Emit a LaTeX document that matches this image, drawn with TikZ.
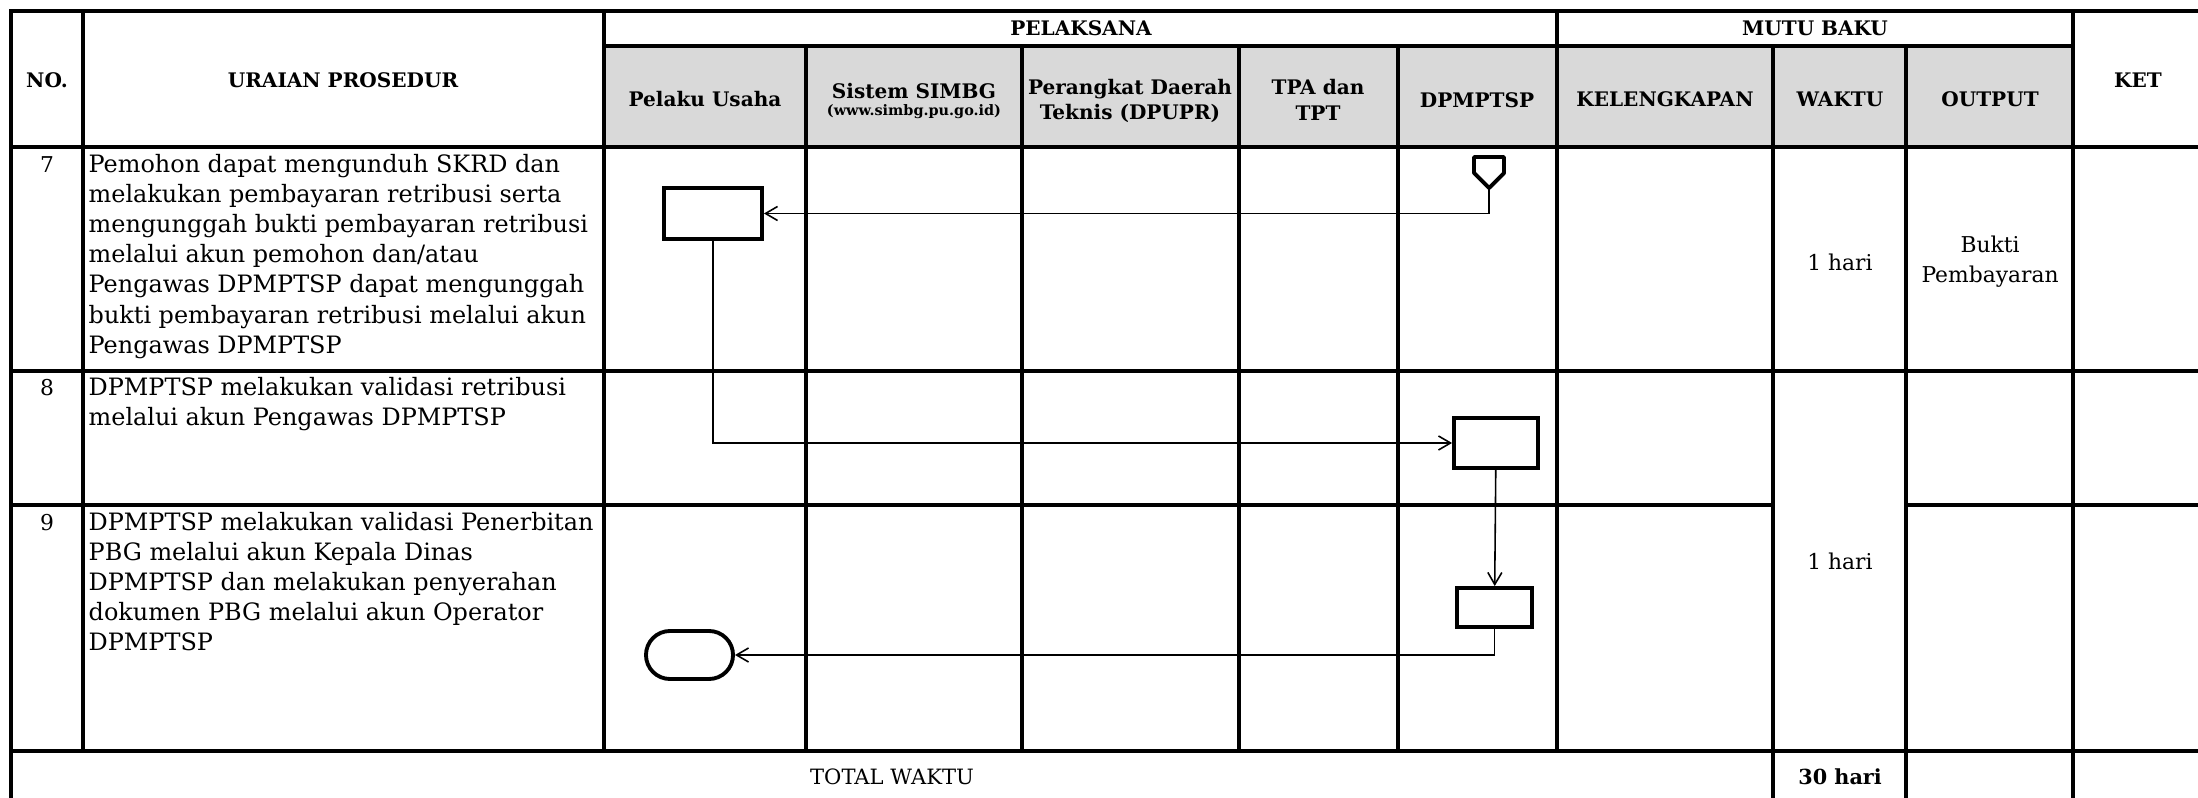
\documentclass[tikz,border=0pt]{standalone}
\usepackage{fontspec}
\setmainfont{DejaVu Serif}
\usetikzlibrary{shapes.misc,arrows.meta}

\begin{document}
\begin{tikzpicture}[x=0.01cm,y=-0.01cm,
			grid/.style={line width=1pt,line cap=rect},
			hd/.style={font=\fontsize{5.7}{7.2}\selectfont\bfseries,align=center},
			cell/.style={font=\fontsize{6.2}{8.54}\selectfont,align=center},
			tx/.style={font=\fontsize{6.8}{8.54}\selectfont,align=left,anchor=north west,inner sep=0pt},
			box/.style={draw,line width=1.1pt,inner sep=0pt},
			flow/.style={line width=0.45pt,-{Straight Barb[length=1.2mm,width=1.4mm]}}]
			\useasboundingbox (0,0) rectangle (2198,798);
			\fill[gray!30] (604,46) rectangle (2073,147);
			\draw[grid] (11,11) -- (2203,11) (604,46) -- (2073,46) (11,147) -- (2203,147) (11,371) -- (2203,371);
			\draw[grid] (11,505) -- (1773,505) (1906,505) -- (2203,505) (11,751) -- (2203,751);
			\draw[grid] (11,11) -- (11,803) (83,11) -- (83,751) (604,11) -- (604,751) (1557,11) -- (1557,751);
			\draw[grid] (806,46) -- (806,751) (1022,46) -- (1022,751) (1239,46) -- (1239,751) (1398,46) -- (1398,751);
			\draw[grid] (1773,46) -- (1773,803) (1906,46) -- (1906,803) (2073,11) -- (2073,803);
			\node[hd] (no) at (47,80) {NO.};
			\node[hd] (ur) at (343,80) {URAIAN PROSEDUR};
			\node[hd] (pl) at (1081,28) {PELAKSANA};
			\node[hd] (mb) at (1815,28) {MUTU BAKU};
			\node[hd] (ket) at (2138,80) {KET};
			\node[hd] (pu) at (705,99) {Pelaku Usaha};
			\node[hd] (ss) at (914,91) {Sistem SIMBG};
			\node[hd,font=\fontsize{4.1}{5}\selectfont\bfseries] (sw) at (914,112) {(www.simbg.pu.go.id)};
			\node[hd] (pd) at (1130,101) {Perangkat Daerah\\Teknis (DPUPR)};
			\node[hd] (tp) at (1318,100) {TPA dan\\TPT};
			\node[hd] (dp) at (1477,100) {DPMPTSP};
			\node[hd] (kl) at (1665,99) {KELENGKAPAN};
			\node[hd] (wk) at (1840,99) {WAKTU};
			\node[hd] (op) at (1990,99) {OUTPUT};
			\node[cell] (n7) at (47,165) {7};
			\node[cell] (n8) at (47,388) {8};
			\node[cell] (n9) at (47,523) {9};
			\node[tx] (t7) at (88,154) {Pemohon dapat mengunduh SKRD dan\\melakukan pembayaran retribusi serta\\mengunggah bukti pembayaran retribusi\\melalui akun pemohon dan/atau\\Pengawas DPMPTSP dapat mengunggah\\bukti pembayaran retribusi melalui akun\\Pengawas DPMPTSP};
			\node[tx] (t8) at (88,377) {DPMPTSP melakukan validasi retribusi\\melalui akun Pengawas DPMPTSP};
			\node[tx] (t9) at (88,512) {DPMPTSP melakukan validasi Penerbitan\\PBG melalui akun Kepala Dinas\\DPMPTSP dan melakukan penyerahan\\dokumen PBG melalui akun Operator\\DPMPTSP};
			\node[cell] (w7) at (1840,262) {1 hari};
			\node[cell] (o7) at (1990,262) {Bukti\\Pembayaran};
			\node[cell] (w9) at (1840,561) {1 hari};
			\node[cell,font=\fontsize{6}{8}\selectfont] (tw) at (892,777) {TOTAL WAKTU};
			\node[cell,font=\fontsize{5.9}{8}\selectfont\bfseries] (jm) at (1840,777) {30 hari};
			\draw[line width=1.1pt,line join=round] (1474,157) -- (1504,157) -- (1504,173) -- (1489,188) -- (1474,173) -- cycle;
			\coordinate (0) at (1489,188);
			\node[box,minimum width=0.98cm,minimum height=0.51cm] (1) at (713,213.5) {};
			\node[box,minimum width=0.84cm,minimum height=0.5cm] (2) at (1496,443) {};
			\node[box,minimum width=0.75cm,minimum height=0.39cm] (3) at (1494.5,607.5) {};
			\node[box,rounded rectangle,minimum width=0.87cm,minimum height=0.48cm] (4) at (689.5,655) {};
			\draw[flow] (0) |- (1);
			\draw[flow] (1) |- (2);
			\draw[flow] (2) -- (3);
			\draw[flow] (3) |- (4);
\end{tikzpicture}
\end{document}
